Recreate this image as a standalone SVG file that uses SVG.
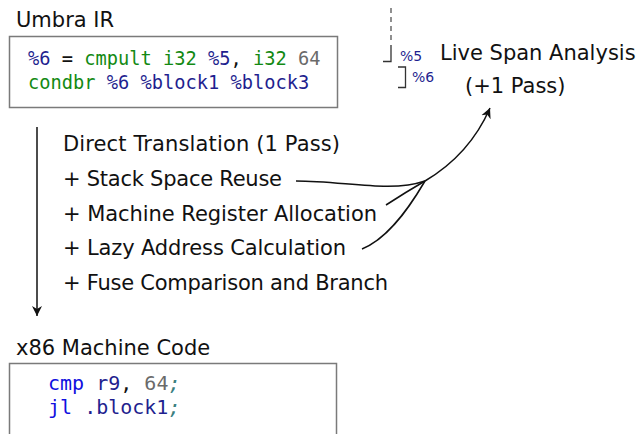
<svg xmlns="http://www.w3.org/2000/svg" width="643" height="434" viewBox="0 0 643 434">
<style>
.t{font-family:"DejaVu Sans","Liberation Sans",sans-serif;font-size:21px;fill:#111}
.m{font-family:"DejaVu Sans Mono","Liberation Mono",monospace;font-size:18.7px}
.m2{font-family:"DejaVu Sans Mono","Liberation Mono",monospace;font-size:20px}
.box{fill:#fff;stroke:#7a7a7a;stroke-width:1.5}
.nv{fill:#1f1f8f}.gr{fill:#138a13}.gy{fill:#6a6a6a}.bk{fill:#111}.bl{fill:#1010e0}.tl{fill:#3b8080}
.c{fill:none;stroke:#111;stroke-width:1.5}
.sm{font-family:"DejaVu Sans","Liberation Sans",sans-serif;font-size:14px;fill:#1f1f8f}
</style>
<defs>
<marker id="ah" markerWidth="12" markerHeight="12" refX="10" refY="6" orient="auto" markerUnits="userSpaceOnUse">
<path d="M0,1 L10,6 L0,11 L3,6 Z" fill="#111"/>
</marker>
</defs>
<g id="umbra">
<text class="t" x="16" y="27">Umbra IR</text>
<rect class="box" x="9.5" y="36.5" width="328" height="71"/>
<text class="m" x="28" y="65"><tspan class="nv">%6</tspan><tspan class="bk"> = </tspan><tspan class="gr">cmpult i32 </tspan><tspan class="nv">%5</tspan><tspan class="bk">, </tspan><tspan class="gr">i32 </tspan><tspan class="gy">64</tspan></text>
<text class="m" x="28" y="89"><tspan class="gr">condbr </tspan><tspan class="nv">%6 %block1 %block3</tspan></text>
</g>
<g id="passes">
<text class="t" x="63" y="151" textLength="277">Direct Translation (1 Pass)</text>
<text class="t" x="63" y="186" textLength="219">+ Stack Space Reuse</text>
<text class="t" x="63" y="221" textLength="314">+ Machine Register Allocation</text>
<text class="t" x="63" y="255" textLength="283">+ Lazy Address Calculation</text>
<text class="t" x="63" y="290" textLength="325">+ Fuse Comparison and Branch</text>
</g>
<g id="x86">
<text class="t" x="16" y="355">x86 Machine Code</text>
<rect class="box" x="9.5" y="363.5" width="327" height="80"/>
<text class="m2" x="48" y="390"><tspan class="bl">cmp </tspan><tspan class="nv">r9</tspan><tspan class="bk">, </tspan><tspan class="gy">64</tspan><tspan class="tl" font-style="italic">;</tspan></text>
<text class="m2" x="48" y="414"><tspan class="bl">jl </tspan><tspan class="nv">.block1</tspan><tspan class="tl" font-style="italic">;</tspan></text>
</g>
<g id="livespan">
<path d="M391,8 V44" fill="none" stroke="#555" stroke-width="1.3" stroke-dasharray="5,4"/>
<path d="M383,61.5 H391 V45" fill="none" stroke="#333" stroke-width="1.3"/>
<text class="sm" x="400" y="61">%5</text>
<path d="M398,67 H405.5 V87.5 H398" fill="none" stroke="#333" stroke-width="1.3"/>
<text class="sm" x="412" y="82">%6</text>
<text class="t" x="440" y="60" font-size="20.5">Live Span Analysis</text>
<text class="t" x="465" y="93" font-size="20.5">(+1 Pass)</text>
</g>
<g id="connectors">
<path class="c" d="M37,127 V316" marker-end="url(#ah)"/>
<path class="c" d="M296,181 C345,181 390,193 425,181"/>
<path class="c" d="M386,205 Q406,192 425,181"/>
<path class="c" d="M362,249 C385,240 405,215 425,181"/>
<path class="c" d="M425,181 C452,165 476,140 490,108" marker-end="url(#ah)"/>
</g>
</svg>
